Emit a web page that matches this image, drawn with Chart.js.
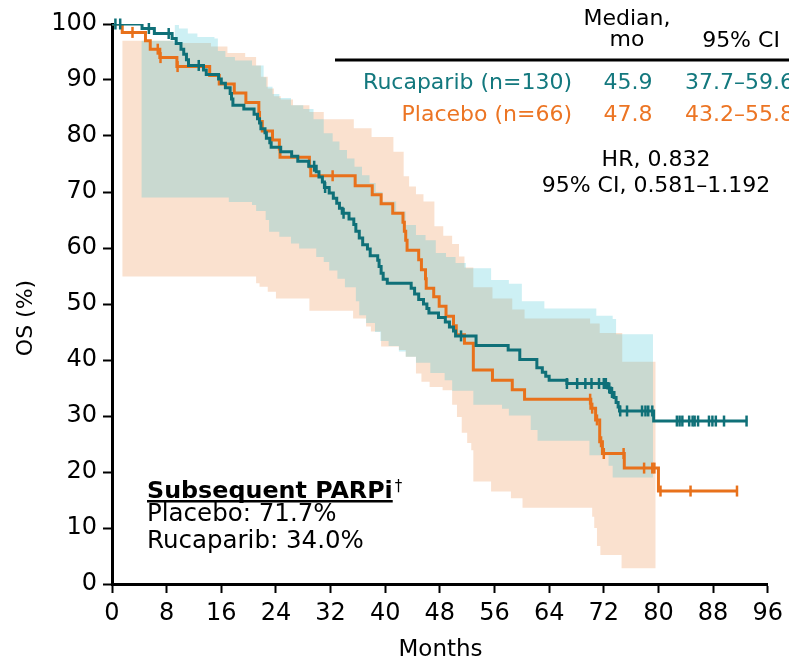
<!DOCTYPE html>
<html>
<head>
<meta charset="utf-8">
<script src="https://cdn.jsdelivr.net/npm/chart.js@4.4.1/dist/chart.umd.min.js"></script>
<style>
  html, body { margin: 0; padding: 0; background: #fff; }
  canvas { display: block; }
</style>
</head>
<body>
<canvas id="os-chart" width="789" height="663"></canvas>
<script>
// ---- data (months, OS %) ----
var xTicks = [0, 8, 16, 24, 32, 40, 48, 56, 64, 72, 80, 88, 96];
var yTicks = [0, 10, 20, 30, 40, 50, 60, 70, 80, 90, 100];

var rucaTime = [0, 4.4, 6.2, 8.8, 9.4, 10.1, 10.5, 10.9, 11.2, 13.4, 13.8, 15.6, 16.0, 16.6, 17.3, 17.5, 17.7, 19.3, 20.8, 21.3,
  21.6, 21.8, 22.4, 22.6, 23.1, 23.3, 24.7, 26.3, 27.2, 28.8, 29.9, 30.3, 30.8, 31.1, 31.8, 32.4, 32.9, 33.3, 33.7, 34.7,
  35.4, 35.7, 36.2, 36.7, 37.4, 37.8, 38.9, 39.1, 39.4, 39.7, 40.3, 43.8, 44.3, 44.9, 45.6, 46.1, 46.4, 47.8, 48.8, 49.4,
  50.0, 50.3, 53.3, 58.0, 59.7, 62.2, 63.0, 63.5, 64.0, 66.6, 72.6, 73.0, 73.5, 73.8, 74.1, 74.3, 79.3, 93.0];
var rucaOS = [100, 99.2, 98.3, 97.4, 96.5, 95.5, 94.6, 93.6, 92.6, 91.8, 91.0, 90.2, 89.4, 88.6, 87.6, 86.6, 85.5, 84.8, 83.9, 83.1,
  82.3, 81.3, 80.6, 79.6, 78.8, 78.0, 77.2, 76.4, 75.5, 74.6, 73.6, 72.7, 71.8, 70.8, 69.8, 68.9, 68.0, 67.1, 66.2, 65.2,
  64.2, 63.0, 61.8, 60.6, 59.8, 58.6, 57.8, 56.7, 55.5, 54.4, 53.7, 52.8, 51.8, 50.8, 50.0, 49.2, 48.4, 47.6, 46.8, 45.9,
  45.2, 44.3, 42.6, 41.8, 40.1, 38.6, 37.8, 37.1, 36.4, 35.8, 35.0, 34.2, 33.3, 32.4, 31.6, 30.9, 29.1, 29.1];
var rucaCensTime = [0.5, 1.2, 5.4, 8.3, 12.7, 29.6, 31.2, 33.9, 51.1, 66.6, 68.1, 69.3, 70.2, 71.3, 72.0, 72.3, 72.8, 73.2,
  74.4, 75.4, 77.6, 78.1, 78.5, 79.1, 82.7, 83.1, 83.5, 84.5, 85.0, 85.3, 85.8, 87.4, 87.9, 88.4, 89.6, 92.9];
var rucaCensOS = [100, 100, 99.2, 98.3, 92.6, 74.6, 70.8, 66.2, 44.3, 35.8, 35.8, 35.8, 35.8, 35.8, 35.8, 35.8, 35.0, 34.2,
  30.9, 30.9, 30.9, 30.9, 30.9, 30.9, 29.1, 29.1, 29.1, 29.1, 29.1, 29.1, 29.1, 29.1, 29.1, 29.1, 29.1, 29.1];
var rucaHiTime = [4.3, 9.2, 9.8, 11.1, 12.5, 15.0, 15.5, 16.6, 18.0, 20.5, 22.2, 22.6, 23.5, 24.5, 26.2, 28.0, 29.5, 31.0, 32.3, 33.3,
  34.4, 35.5, 36.6, 37.7, 38.6, 39.6, 41.6, 43.0, 44.5, 45.9, 47.4, 48.9, 50.3, 51.8, 55.5, 58.1, 60.0, 63.3, 70.9, 73.3, 73.8, 79.2];
var rucaHi = [97.0, 99.8, 99.2, 98.3, 97.7, 97.4, 95.2, 94.1, 93.5, 92.6, 90.5, 88.8, 87.5, 86.8, 85.5, 84.8, 83.0, 80.5, 79.0, 77.5,
  76.0, 74.5, 73.0, 71.6, 70.0, 68.3, 66.5, 64.1, 62.3, 61.4, 59.1, 58.4, 57.3, 56.4, 54.3, 53.6, 50.5, 49.2, 47.9, 47.3, 44.6, 44.6];
var rucaLoTime = [4.3, 17.1, 20.5, 21.1, 22.5, 23.0, 24.5, 26.2, 27.4, 29.9, 31.0, 31.8, 33.0, 34.1, 35.7, 36.2, 37.2, 38.5, 39.3, 40.5,
  42.0, 43.0, 44.5, 46.6, 48.7, 49.8, 52.9, 57.1, 58.1, 61.3, 62.3, 69.9, 72.7, 73.3, 79.2];
var rucaLo = [69.0, 68.2, 67.7, 66.6, 65.0, 62.9, 62.0, 60.8, 59.9, 58.4, 57.5, 56.0, 54.5, 53.0, 50.5, 48.0, 46.6, 45.0, 43.4, 42.5,
  41.5, 40.6, 39.5, 37.7, 36.4, 34.5, 32.0, 31.3, 30.1, 27.5, 25.6, 23.0, 21.1, 19.0, 19.0];

var placTime = [0, 1.5, 4.9, 5.6, 7.0, 9.5, 14.3, 15.7, 17.9, 19.6, 21.5, 21.6, 22.0, 23.5, 24.5, 24.6, 28.9, 29.1, 35.6, 38.1,
  39.4, 41.1, 42.6, 42.8, 43.0, 43.2, 44.9, 45.3, 45.9, 46.0, 47.1, 47.9, 48.9, 50.0, 50.4, 51.6, 52.9, 55.7, 58.6, 60.4,
  70.1, 70.8, 71.4, 71.8, 75.0, 80.0, 91.5];
var placOS = [100, 98.5, 97.0, 95.5, 94.0, 92.4, 90.8, 89.3, 87.7, 86.0, 84.2, 82.6, 80.9, 79.3, 77.7, 76.2, 74.5, 72.9, 71.1, 69.5,
  67.9, 66.2, 64.6, 63.0, 61.4, 59.6, 57.9, 56.1, 54.5, 52.8, 51.3, 49.6, 47.8, 46.1, 44.5, 43.0, 38.2, 36.4, 34.7, 33.0,
  31.4, 29.3, 25.4, 23.3, 20.7, 16.6, 16.6];
var placCensTime = [3.0, 6.7, 7.1, 9.6, 32.3, 70.0, 70.3, 71.0, 71.6, 72.0, 74.9, 77.9, 79.1, 79.4, 80.3, 84.7, 91.5];
var placCensOS = [98.5, 95.5, 94.0, 92.4, 72.9, 33.0, 31.4, 29.3, 25.4, 23.3, 23.3, 20.7, 20.7, 20.7, 16.6, 16.6, 16.6];
var placHiTime = [1.5, 9.0, 14.5, 16.9, 19.5, 21.1, 21.8, 22.8, 23.7, 24.7, 26.5, 28.9, 31.0, 35.4, 38.0, 41.2, 42.7, 43.5, 44.5, 45.6,
  47.2, 48.5, 49.8, 50.8, 51.6, 52.9, 55.7, 58.6, 60.4, 70.0, 71.4, 74.7, 79.6];
var placHi = [97.0, 96.6, 96.0, 94.8, 94.1, 92.6, 90.6, 88.5, 87.1, 86.5, 85.5, 84.3, 83.0, 81.4, 79.8, 77.2, 72.8, 71.0, 69.6, 68.3,
  63.9, 62.2, 60.7, 58.5, 56.5, 53.0, 51.0, 49.0, 47.4, 46.5, 44.8, 39.7, 39.7];
var placLoTime = [1.5, 21.1, 21.6, 22.8, 24.0, 28.9, 35.3, 37.2, 37.9, 39.4, 42.0, 43.0, 44.5, 45.3, 46.5, 48.4, 49.8, 50.5, 51.2, 52.0,
  52.6, 52.9, 55.5, 58.4, 60.1, 70.3, 70.6, 71.0, 71.5, 74.6, 79.6];
var placLo = [54.9, 53.7, 53.1, 52.2, 51.0, 48.8, 47.4, 46.0, 45.1, 42.4, 41.8, 40.6, 37.6, 36.1, 35.2, 34.6, 32.0, 29.8, 27.0, 25.2,
  23.9, 18.3, 16.5, 15.3, 13.6, 12.0, 10.0, 6.8, 5.2, 2.8, 2.8];

var TEAL = "#0f7078";
var ORANGE = "#e8711b";
var TEAL_TEXT = "#13787e";
var ORANGE_TEXT = "#ec7524";
var FONT = '"DejaVu Sans", Verdana, sans-serif';

function pts(t, v) {
  var out = [];
  for (var i = 0; i < Math.min(t.length, v.length); i++) out.push({ x: t[i], y: v[i] });
  return out;
}

function band(label, data, color, fill, order) {
  return {
    label: label, data: data, stepped: true, fill: fill,
    backgroundColor: color, borderColor: "rgba(0,0,0,0)", borderWidth: 0,
    pointRadius: 0, order: order
  };
}

function curve(label, data, color, order) {
  return {
    label: label, data: data, stepped: true, fill: false,
    borderColor: color, borderWidth: 3, pointRadius: 0, order: order
  };
}

function censors(label, data, color, order) {
  return {
    label: label, data: data, showLine: false, clip: false,
    pointStyle: "line", pointRotation: 90, pointRadius: 5.5,
    pointBorderWidth: 2.5, pointBorderColor: color, borderColor: color,
    backgroundColor: color, order: order
  };
}

var annotations = {
  id: "annotations",
  afterDraw: function (chart) {
    var c = chart.ctx;
    c.save();
    c.textBaseline = "alphabetic";

    // table header
    c.fillStyle = "#000";
    c.font = "22px " + FONT;
    c.textAlign = "center";
    c.fillText("Median,", 627, 25);
    c.fillText("mo", 627, 46);
    c.fillText("95% CI", 741, 47);
    c.fillRect(335, 58.5, 460, 3);

    // rows
    c.textAlign = "right";
    c.fillStyle = TEAL_TEXT;
    c.fillText("Rucaparib (n=130)", 572, 89);
    c.fillStyle = ORANGE_TEXT;
    c.fillText("Placebo (n=66)", 572, 121);
    c.textAlign = "center";
    c.fillStyle = TEAL_TEXT;
    c.fillText("45.9", 628, 89);
    c.fillStyle = ORANGE_TEXT;
    c.fillText("47.8", 628, 121);
    c.textAlign = "left";
    c.fillStyle = TEAL_TEXT;
    c.fillText("37.7\u201359.6", 685, 89);
    c.fillStyle = ORANGE_TEXT;
    c.fillText("43.2\u201355.8", 685, 121);

    // hazard ratio
    c.fillStyle = "#000";
    c.textAlign = "center";
    c.fillText("HR, 0.832", 656, 166);
    c.fillText("95% CI, 0.581\u20131.192", 656, 192);

    // subsequent PARPi box
    c.textAlign = "left";
    c.font = "bold 23.8px " + FONT;
    c.fillText("Subsequent PARPi", 147, 498);
    var w = c.measureText("Subsequent PARPi").width;
    c.fillRect(147, 500, w, 2.5);
    c.font = "15px " + FONT;
    c.fillText("\u2020", 147 + w + 2, 491);
    c.font = "24.5px " + FONT;
    c.fillText("Placebo: 71.7%", 147, 521);
    c.fillText("Rucaparib: 34.0%", 147, 548);

    // axis titles
    c.font = "23px " + FONT;
    c.textAlign = "center";
    c.fillText("Months", 440.5, 656);
    c.translate(26, 318);
    c.rotate(-Math.PI / 2);
    c.textBaseline = "middle";
    c.font = "22px " + FONT;
    c.fillText("OS (%)", 0, 0);
    c.restore();
  }
};

var tickFont = { family: FONT, size: 24 };

new Chart(document.getElementById("os-chart").getContext("2d"), {
  type: "line",
  data: {
    datasets: [
      censors("Rucaparib censored", pts(rucaCensTime, rucaCensOS), TEAL, 0),
      curve("Rucaparib", pts(rucaTime, rucaOS), TEAL, 1),
      censors("Placebo censored", pts(placCensTime, placCensOS), ORANGE, 2),
      curve("Placebo", pts(placTime, placOS), ORANGE, 3),
      band("Rucaparib 95% CI", pts(rucaHiTime, rucaHi), "rgba(56,196,212,0.25)", "+1", 4),
      band("Rucaparib 95% CI low", pts(rucaLoTime, rucaLo), "rgba(0,0,0,0)", false, 5),
      band("Placebo 95% CI", pts(placHiTime, placHi), "#fae1cf", "+1", 6),
      band("Placebo 95% CI low", pts(placLoTime, placLo), "rgba(0,0,0,0)", false, 7)
    ]
  },
  options: {
    responsive: false,
    animation: false,
    devicePixelRatio: 1,
    layout: { padding: { left: 0, right: 20, top: 24, bottom: 0 } },
    plugins: {
      legend: { display: false },
      tooltip: { enabled: false },
      filler: { propagate: false }
    },
    scales: {
      x: {
        type: "linear", min: 0, max: 96,
        afterFit: function (s) { s.height = 79; },
        afterBuildTicks: function (s) { s.ticks = xTicks.map(function (v) { return { value: v }; }); },
        ticks: { font: tickFont, color: "#000", padding: 6, maxRotation: 0, autoSkip: false },
        grid: { drawOnChartArea: false, drawTicks: true, tickLength: 9, tickWidth: 2, tickColor: "#000" },
        border: { display: true, color: "#000", width: 3 }
      },
      y: {
        min: 0, max: 100,
        afterFit: function (s) { s.width = 112; },
        afterBuildTicks: function (s) { s.ticks = yTicks.map(function (v) { return { value: v }; }); },
        ticks: { font: tickFont, color: "#000", padding: 6, autoSkip: false },
        grid: { drawOnChartArea: false, drawTicks: true, tickLength: 9, tickWidth: 2, tickColor: "#000" },
        border: { display: true, color: "#000", width: 3 }
      }
    }
  },
  plugins: [annotations]
});
</script>
</body>
</html>
